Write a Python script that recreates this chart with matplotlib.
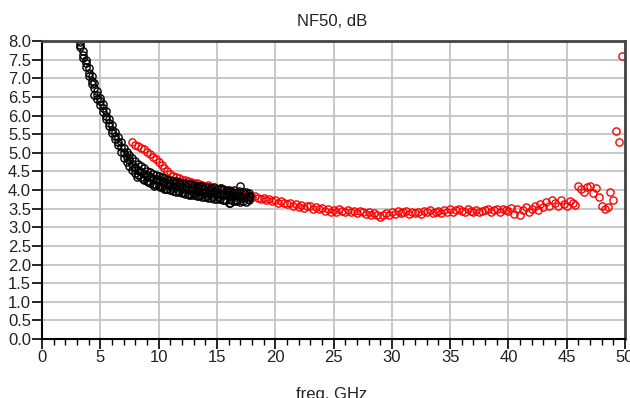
import matplotlib
matplotlib.use("Agg")
import matplotlib.pyplot as plt
from matplotlib.ticker import MultipleLocator

plt.rcParams['font.family'] = ['Liberation Sans', 'DejaVu Sans']

## black sweeps, 3.25 .. 17.75 GHz
freq_black = [3.25, 3.5, 3.75,
              4.0, 4.25, 4.5, 4.75, 5.0, 5.25, 5.5, 5.75, 6.0, 6.25, 6.5, 6.75,
              7.0, 7.25, 7.5, 7.75, 8.0, 8.25, 8.5, 8.75, 9.0, 9.25, 9.5, 9.75,
              10.0, 10.25, 10.5, 10.75, 11.0, 11.25, 11.5, 11.75, 12.0, 12.25, 12.5, 12.75,
              13.0, 13.25, 13.5, 13.75, 14.0, 14.25, 14.5, 14.75, 15.0, 15.25, 15.5, 15.75,
              16.0, 16.25, 16.5, 16.75, 17.0, 17.25, 17.5, 17.75]

nf_black_a = [7.98, 7.74, 7.50,
              7.28, 7.05, 6.86, 6.66, 6.48, 6.30, 6.12, 5.92, 5.74, 5.56, 5.42, 5.28,
              5.14, 5.02, 4.94, 4.86, 4.78, 4.70, 4.64, 4.58, 4.52, 4.48, 4.44, 4.40,
              4.38, 4.34, 4.32, 4.30, 4.28, 4.25, 4.24, 4.22, 4.20, 4.18, 4.17, 4.15,
              4.14, 4.12, 4.11, 4.10, 4.08, 4.07, 4.06, 4.08, 4.04, 4.02, 4.03, 4.00,
              3.99, 3.98, 4.00, 3.96, 4.10, 3.95, 3.94, 3.92]

nf_black_b = [7.90, 7.62, 7.40,
              7.15, 6.92, 6.75, 6.55, 6.38, 6.20, 6.00, 5.80, 5.60, 5.46, 5.30, 5.15,
              5.00, 4.90, 4.80, 4.70, 4.62, 4.55, 4.48, 4.44, 4.38, 4.34, 4.30, 4.27,
              4.24, 4.21, 4.18, 4.16, 4.14, 4.11, 4.10, 4.08, 4.06, 4.04, 4.03, 4.01,
              4.00, 3.98, 3.97, 3.96, 3.95, 3.93, 3.92, 3.91, 3.90, 3.89, 3.88, 3.87,
              3.86, 3.85, 3.84, 3.83, 3.83, 3.82, 3.81, 3.80]

nf_black_c = [7.84, 7.55, 7.30,
              7.05, 6.85, 6.55, 6.45, 6.28, 6.10, 5.90, 5.72, 5.52, 5.36, 5.20, 5.02,
              4.86, 4.74, 4.64, 4.55, 4.46, 4.40, 4.34, 4.28, 4.24, 4.19, 4.16, 4.13,
              4.10, 4.07, 4.04, 4.02, 4.00, 3.97, 3.96, 3.94, 3.92, 3.90, 3.89, 3.87,
              3.86, 3.84, 3.83, 3.82, 3.80, 3.79, 3.78, 3.77, 3.76, 3.75, 3.74, 3.73,
              3.66, 3.72, 3.70, 3.71, 3.69, 3.70, 3.68, 3.72]

## fourth black sweep, offset grid 7.875 .. 17.875 GHz
freq_black_d = [7.875, 8.125, 8.375, 8.625, 8.875, 9.125, 9.375, 9.625, 9.875,
                10.125, 10.375, 10.625, 10.875, 11.125, 11.375, 11.625, 11.875,
                12.125, 12.375, 12.625, 12.875, 13.125, 13.375, 13.625, 13.875,
                14.125, 14.375, 14.625, 14.875, 15.125, 15.375, 15.625, 15.875,
                16.125, 16.375, 16.625, 16.875, 17.125, 17.375, 17.625, 17.875]

nf_black_d = [4.60, 4.36, 4.50, 4.30, 4.42, 4.22, 4.34, 4.12, 4.30,
              4.08, 4.25, 4.02, 4.20, 4.05, 4.18, 3.98, 4.15,
              3.95, 4.12, 3.88, 4.08, 3.92, 4.05, 3.86, 4.02,
              3.85, 4.04, 3.80, 3.98, 3.82, 4.06, 3.72, 3.95,
              3.66, 3.92, 3.74, 3.98, 3.78, 3.90, 3.76, 3.85]

## red sweep, 7.75 .. 49.75 GHz
freq_red = [7.75,
            8.0, 8.25, 8.5, 8.75, 9.0, 9.25, 9.5, 9.75,
            10.0, 10.25, 10.5, 10.75, 11.0, 11.25, 11.5, 11.75,
            12.0, 12.25, 12.5, 12.75, 13.0, 13.25, 13.5, 13.75,
            14.0, 14.25, 14.5, 14.75, 15.0, 15.25, 15.5, 15.75,
            16.0, 16.25, 16.5, 16.75, 17.0, 17.25, 17.5, 17.75,
            18.0, 18.25, 18.5, 18.75, 19.0, 19.25, 19.5, 19.75,
            20.0, 20.25, 20.5, 20.75, 21.0, 21.25, 21.5, 21.75,
            22.0, 22.25, 22.5, 22.75, 23.0, 23.25, 23.5, 23.75,
            24.0, 24.25, 24.5, 24.75, 25.0, 25.25, 25.5, 25.75,
            26.0, 26.25, 26.5, 26.75, 27.0, 27.25, 27.5, 27.75,
            28.0, 28.25, 28.5, 28.75, 29.0, 29.25, 29.5, 29.75,
            30.0, 30.25, 30.5, 30.75, 31.0, 31.25, 31.5, 31.75,
            32.0, 32.25, 32.5, 32.75, 33.0, 33.25, 33.5, 33.75,
            34.0, 34.25, 34.5, 34.75, 35.0, 35.25, 35.5, 35.75,
            36.0, 36.25, 36.5, 36.75, 37.0, 37.25, 37.5, 37.75,
            38.0, 38.25, 38.5, 38.75, 39.0, 39.25, 39.5, 39.75,
            40.0, 40.25, 40.5, 40.75, 41.0, 41.25, 41.5, 41.75,
            42.0, 42.25, 42.5, 42.75, 43.0, 43.25, 43.5, 43.75,
            44.0, 44.25, 44.5, 44.75, 45.0, 45.25, 45.5, 45.75,
            46.0, 46.25, 46.5, 46.75, 47.0, 47.25, 47.5, 47.75,
            48.0, 48.25, 48.5, 48.75, 49.0, 49.25, 49.5, 49.75]

nf_red = [5.28,
          5.22, 5.18, 5.12, 5.10, 5.02, 4.98, 4.90, 4.84,
          4.74, 4.66, 4.58, 4.50, 4.44, 4.38, 4.35, 4.32,
          4.28, 4.26, 4.24, 4.22, 4.20, 4.18, 4.16, 4.14,
          4.12, 4.14, 4.08, 4.06, 4.04, 4.06, 4.00, 3.98,
          3.96, 3.98, 3.92, 3.90, 3.92, 3.86, 3.84, 3.86,
          3.80, 3.84, 3.78, 3.76, 3.78, 3.72, 3.75, 3.70,
          3.72, 3.66, 3.70, 3.64, 3.62, 3.66, 3.58, 3.62,
          3.55, 3.60, 3.52, 3.56, 3.58, 3.50, 3.54, 3.48,
          3.52, 3.44, 3.48, 3.42, 3.46, 3.40, 3.48, 3.44,
          3.42, 3.46, 3.40, 3.44, 3.38, 3.44, 3.40, 3.36,
          3.42, 3.34, 3.38, 3.32, 3.28, 3.34, 3.38, 3.32,
          3.42, 3.36, 3.44, 3.38, 3.40, 3.45, 3.36, 3.42,
          3.38, 3.42, 3.36, 3.44, 3.40, 3.46, 3.38, 3.42,
          3.44, 3.38, 3.46, 3.42, 3.48, 3.42, 3.46, 3.50,
          3.44, 3.40, 3.48, 3.45, 3.42, 3.47, 3.40, 3.44,
          3.46, 3.50, 3.42, 3.46, 3.48, 3.42, 3.50, 3.46,
          3.44, 3.52, 3.36, 3.48, 3.32, 3.46, 3.54, 3.40,
          3.50, 3.58, 3.46, 3.62, 3.54, 3.68, 3.56, 3.74,
          3.64, 3.58, 3.72, 3.62, 3.56, 3.70, 3.66, 3.60,
          4.10, 4.02, 3.96, 4.08, 4.12, 3.92, 4.06, 3.80,
          3.58, 3.48, 3.55, 3.95, 3.72, 5.58, 5.30, 7.60]

assert len(freq_black) == len(nf_black_a) == len(nf_black_b) == len(nf_black_c)
assert len(freq_black_d) == len(nf_black_d)
assert len(freq_red) == len(nf_red)

fig = plt.figure(figsize=(6.3, 3.98), dpi=100)
ax = fig.add_axes([0.0667, 0.148, 0.9254, 0.749])

mk = dict(marker="o", linestyle="None", markerfacecolor="none",
          markersize=5.2, markeredgewidth=1.0)
ax.plot(freq_red, nf_red, markeredgecolor="red", **mk)
for nf in (nf_black_a, nf_black_b, nf_black_c):
    ax.plot(freq_black, nf, markeredgecolor="black", **mk)
ax.plot(freq_black_d, nf_black_d, markeredgecolor="black", **mk)

ax.set_xlim(0, 50)
ax.set_ylim(0, 8)
ax.xaxis.set_major_locator(MultipleLocator(5))
ax.xaxis.set_minor_locator(MultipleLocator(1))
ax.yaxis.set_major_locator(MultipleLocator(0.5))
ax.yaxis.set_major_formatter(plt.FormatStrFormatter("%.1f"))

ax.grid(True, which="major", color="#c4c4c4", linewidth=1.3)
ax.set_axisbelow(True)

ax.tick_params(which="major", direction="out", length=7, width=1.2,
               labelsize=12, pad=1, colors="black", labelcolor="#222222")
ax.tick_params(which="minor", direction="out", length=4, width=1.0)

for side in ("left", "bottom"):
    ax.spines[side].set_color("black")
    ax.spines[side].set_linewidth(1.5)
for side in ("top", "right"):
    ax.spines[side].set_color("#444444")
    ax.spines[side].set_linewidth(2)

fig.text(0.527, 0.965, "NF50, dB", ha="center", va="top", fontsize=12, color="#222222")
fig.text(0.527, 0.028, "freq, GHz", ha="center", va="top", fontsize=12, color="#222222")

fig.savefig("out.png", dpi=100)
